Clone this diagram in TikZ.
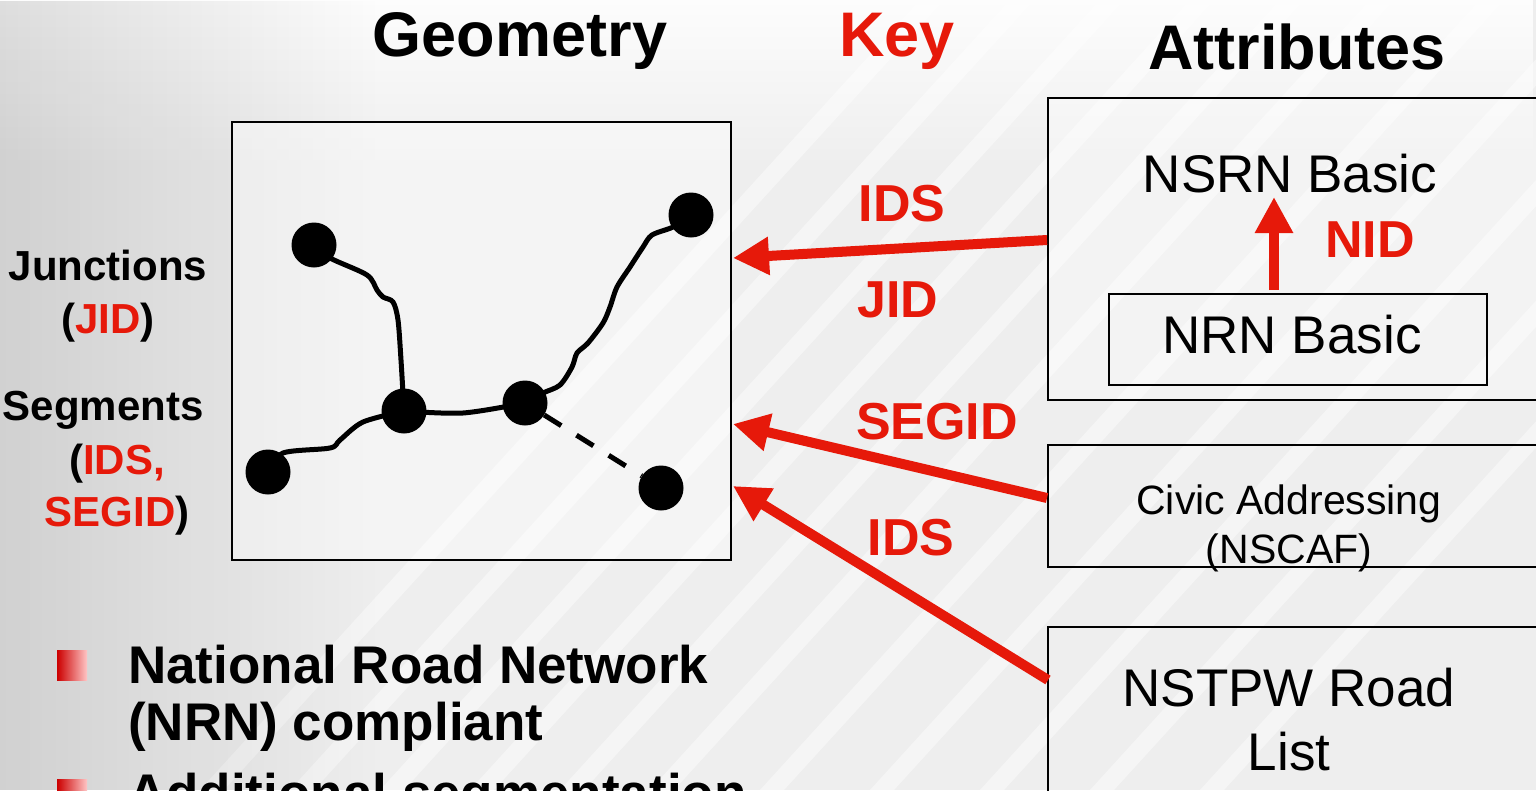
\documentclass[tikz,border=0pt]{standalone}
\usepackage{fontspec}
\setmainfont{Liberation Sans}
\usetikzlibrary{arrows.meta,fadings}
\definecolor{kred}{RGB}{230,25,10}
\definecolor{bggray}{RGB}{238,238,238}
\tikzfading[name=fadeR,left color=transparent!0,right color=transparent!100]
\tikzfading[name=fadeD,top color=transparent!0,bottom color=transparent!100]
\begin{document}
\begin{tikzpicture}[x=1pt,y=-1pt,
  junc/.style={circle,fill=black,minimum size=45pt,inner sep=0pt},
  road/.style={line width=5pt,line cap=round,line join=round},
  frame/.style={draw=black,line width=2pt},
  keyarrow/.style={draw=kred,line width=10pt,-{Triangle[length=36pt,width=36pt]}},
  headtxt/.style={font=\fontsize{63}{70}\selectfont\bfseries,inner sep=0pt},
  keylab/.style={text=kred,font=\fontsize{52}{58}\selectfont\bfseries,inner sep=0pt},
  side/.style={font=\fontsize{42}{50}\selectfont\bfseries,inner sep=0pt},
  attr/.style={font=\fontsize{53}{60}\selectfont,inner sep=0pt},
  attrsmall/.style={font=\fontsize{41}{48}\selectfont,inner sep=0pt},
  bullettxt/.style={font=\fontsize{53}{57}\selectfont\bfseries,inner sep=0pt},
  bulletbox/.style={minimum size=30pt,inner sep=0pt,left color=red!80!black,right color=red!22!white,anchor=north west},
  stripe/.style={fill=white,opacity=0.45},
]
\useasboundingbox (0,0) rectangle (1536,790);
\clip (0,0) rectangle (1536,790);
% background
\fill[bggray] (0,0) rectangle (1536,790);
\fill[white,path fading=fadeD,opacity=0.9] (0,0) rectangle (1536,170);
\foreach \x in {200,290,380,470,560,650,760,870,980,1090,1200}{
  \fill[stripe] (\x,790) -- (\x+24,790) -- (\x+744,0) -- (\x+720,0) -- cycle;
}
\fill[black,path fading=fadeR,opacity=0.12] (0,0) rectangle (380,790);
% geometry box
\node[frame,fill=white,fill opacity=0.4,anchor=north west,minimum width=499pt,minimum height=438pt,inner sep=0pt] (geo) at (231,121) {};
% attribute boxes
\node[frame,fill=white,fill opacity=0.3,anchor=north west,minimum width=540pt,minimum height=302pt,inner sep=0pt] (nsrnbox) at (1047,97) {};
\node[frame,anchor=north west,minimum width=378pt,minimum height=91pt,inner sep=0pt] (nrnbox) at (1108,293) {};
\node[frame,anchor=north west,minimum width=540pt,minimum height=122pt,inner sep=0pt] (civbox) at (1047,444) {};
\node[frame,anchor=north west,minimum width=540pt,minimum height=250pt,inner sep=0pt] (pwbox) at (1047,626) {};
% headings
\node[headtxt,anchor=base] (tgeo) at (520,56) {Geometry};
\node[headtxt,anchor=base,text=kred] (tkey) at (897,56) {Key};
\node[headtxt,anchor=base] (tattr) at (1297,69) {Attributes};
% side labels
\node[side,anchor=base] (ljunc) at (108,280) {Junctions};
\node[side,anchor=base] (ljid) at (108,333) {(\textcolor{kred}{JID})};
\node[side,anchor=base] (lseg) at (103,420) {Segments};
\node[side,anchor=base] (lids) at (117,474) {(\textcolor{kred}{IDS,}};
\node[side,anchor=base] (lsegid) at (117,526) {\textcolor{kred}{SEGID})};
% junctions
\node[junc] (A) at (314,245) {};
\node[junc] (B) at (691,215) {};
\node[junc] (C) at (404,411) {};
\node[junc] (D) at (525,403) {};
\node[junc] (E) at (268,472) {};
\node[junc] (F) at (661,488) {};
% roads
\draw[road] plot[smooth,tension=0.5] coordinates {(A) (330,258) (367,275) (377,290) (383,297) (393,302) (398,320) (401,360) (C)};
\draw[road] plot[smooth,tension=0.5] coordinates {(E) (283,453) (330,448) (340,440) (363,422) (C)};
\draw[road] plot[smooth,tension=0.5] coordinates {(C) (463,413) (D)};
\draw[road] plot[smooth,tension=0.5] coordinates {(D) (543,393) (560,385) (572,367) (577,353) (588,343) (603,323) (610,307) (617,287) (630,267) (643,247) (652,235) (673,227) (B)};
\draw[road,line cap=butt,dash pattern=on 20pt off 18pt] (D) -- (F);
% key arrows
\coordinate (a1s) at (1047,240);
\coordinate (a1e) at (733,258);
\coordinate (a2s) at (1047,498);
\coordinate (a2e) at (733,424);
\coordinate (a3s) at (1048,680);
\coordinate (a3e) at (733,486);
\draw[keyarrow] (a1s) -- (a1e);
\draw[keyarrow] (a2s) -- (a2e);
\draw[keyarrow] (a3s) -- (a3e);
\coordinate (nids) at (1274,290);
\coordinate (nide) at (1274,197);
\draw[keyarrow] (nids) -- (nide);
% key labels
\node[keylab,anchor=base] (kids1) at (902,221) {IDS};
\node[keylab,anchor=base] (kjid) at (898,317) {JID};
\node[keylab,anchor=base] (ksegid) at (937,439) {SEGID};
\node[keylab,anchor=base] (kids2) at (911,555) {IDS};
\node[keylab,anchor=base] (knid) at (1370,257) {NID};
% attribute texts
\node[attr,anchor=base] (tnsrn) at (1290,192) {NSRN Basic};
\node[attr,anchor=base] (tnrn) at (1292,353) {NRN Basic};
\node[attrsmall,anchor=base] (tciv1) at (1289,514) {Civic Addressing};
\node[attrsmall,anchor=base] (tciv2) at (1289,563) {(NSCAF)};
\node[attr,anchor=base] (tpw1) at (1289,706) {NSTPW Road};
\node[attr,anchor=base] (tpw2) at (1289,770) {List};
% bullets
\node[bulletbox] (b1) at (57,650) {};
\node[bulletbox] (b2) at (57,779) {};
\node[bullettxt,anchor=base west] (bt1) at (128,683) {National Road Network};
\node[bullettxt,anchor=base west] (bt2) at (128,740) {(NRN) compliant};
\node[bullettxt,anchor=base west] (bt3) at (128,811) {Additional segmentation};
\end{tikzpicture}
\end{document}
